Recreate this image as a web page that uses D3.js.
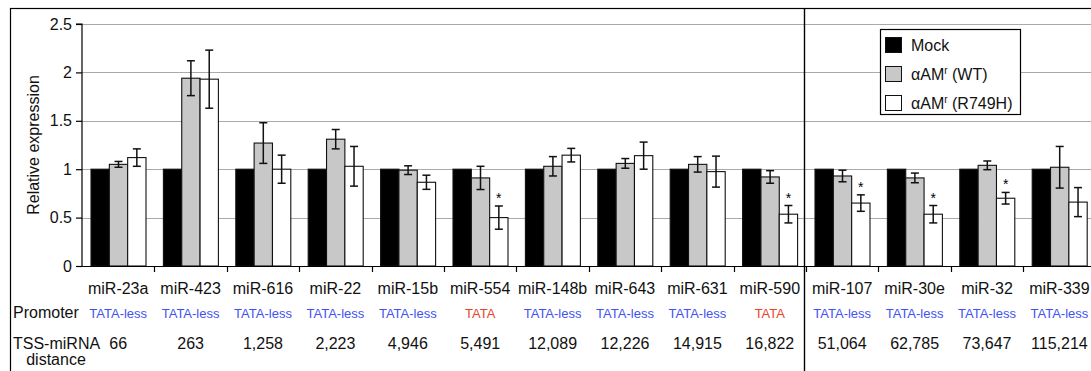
<!DOCTYPE html>
<html>
<head>
<meta charset="utf-8">
<script src="https://cdn.jsdelivr.net/npm/d3@7"></script>
<style>
    html, body { margin: 0; padding: 0; background: #fff; overflow: hidden; }
    svg { display: block; font-family: 'Liberation Sans', Arial, Helvetica, sans-serif; }
</style>
</head>
<body>
<svg id="chart" width="1091" height="371"></svg>
<script>
// data
const categories = ['miR-23a', 'miR-423', 'miR-616', 'miR-22', 'miR-15b', 'miR-554', 'miR-148b',
    'miR-643', 'miR-631', 'miR-590', 'miR-107', 'miR-30e', 'miR-32', 'miR-339'];
const promoters = ['TATA-less', 'TATA-less', 'TATA-less', 'TATA-less', 'TATA-less', 'TATA', 'TATA-less',
    'TATA-less', 'TATA-less', 'TATA', 'TATA-less', 'TATA-less', 'TATA-less', 'TATA-less'];
const distances = ['66', '263', '1,258', '2,223', '4,946', '5,491', '12,089',
    '12,226', '14,915', '16,822', '51,064', '62,785', '73,647', '115,214'];
const mock = [1, 1, 1, 1, 1, 1, 1, 1, 1, 1, 1, 1, 1, 1];
const wt = [1.05, 1.94, 1.27, 1.31, 0.99, 0.91, 1.03, 1.06, 1.05, 0.92, 0.93, 0.91, 1.04, 1.02];
const wtErr = [0.03, 0.18, 0.21, 0.10, 0.045, 0.12, 0.10, 0.05, 0.08, 0.065, 0.06, 0.05, 0.045, 0.215];
const mut = [1.12, 1.93, 1.00, 1.03, 0.865, 0.50, 1.145, 1.14, 0.975, 0.535, 0.65, 0.535, 0.70, 0.66];
const mutErr = [0.09, 0.30, 0.145, 0.205, 0.073, 0.12, 0.07, 0.14, 0.16, 0.09, 0.085, 0.09, 0.06, 0.15];
const significant = [false, false, false, false, false, true, false, false, false, true, true, true, true, false];
const yTicks = [0, 0.5, 1, 1.5, 2, 2.5];
const seriesKeys = ['mock', 'wt', 'mut'];
const seriesNames = ['Mock', 'αAM', 'αAM'];
const seriesSuffix = ['', ' (WT)', ' (R749H)'];
const dividerBefore = 'miR-107';

const colors = {mock: '#000', wt: '#c8c8c8', mut: '#fff'};
const blue = '#3f52f2', red = '#e8442a';

const rows = categories.map((c, i) => ({
    key: c, mock: mock[i], wt: wt[i], mut: mut[i],
    err: {mock: 0, wt: wtErr[i], mut: mutErr[i]}, sig: significant[i]
}));

const svg = d3.select('#chart');
const plotLeft = 82, plotTop = 24, plotBottom = 266;
const catW = 72.4;

const x0 = d3.scaleBand()
    .domain(categories)
    .range([plotLeft, plotLeft + catW * categories.length]);

const x1 = d3.scaleBand()
    .domain(seriesKeys)
    .range([9, 9 + 55]);

const y = d3.scaleLinear()
    .domain([0, 2.5])
    .range([plotBottom, plotTop]);

// outer frame (runs off the right and bottom edges)
svg.append('rect')
    .attr('x', 10.5).attr('y', 8.5)
    .attr('width', 1200).attr('height', 500)
    .attr('fill', 'none').attr('stroke', '#000').attr('stroke-width', 1.2);

// gridlines
svg.append('g')
    .selectAll('line')
    .data(yTicks.filter(t => t > 0))
    .enter().append('line')
    .attr('x1', plotLeft).attr('x2', 1100)
    .attr('y1', d => Math.round(y(d)) + 0.5)
    .attr('y2', d => Math.round(y(d)) + 0.5)
    .attr('stroke', '#aaa').attr('stroke-width', 1.2);

// bars
const groups = svg.append('g')
    .selectAll('g')
    .data(rows)
    .enter().append('g')
    .attr('transform', d => `translate(${x0(d.key)},0)`);

groups.selectAll('rect')
    .data(d => seriesKeys.map(k => ({k: k, v: d[k]})))
    .enter().append('rect')
    .attr('x', d => x1(d.k))
    .attr('y', d => y(d.v))
    .attr('width', x1.bandwidth())
    .attr('height', d => y(0) - y(d.v))
    .attr('fill', d => colors[d.k])
    .attr('stroke', '#111')
    .attr('stroke-width', 1.1);

// error bars
const errs = groups.selectAll('g.err')
    .data(d => ['wt', 'mut'].map(k => ({k: k, v: d[k], e: d.err[k]})))
    .enter().append('g')
    .attr('class', 'err')
    .attr('stroke', '#111')
    .attr('stroke-width', 1.5);

errs.append('line')
    .attr('x1', d => x1(d.k) + x1.bandwidth() / 2)
    .attr('x2', d => x1(d.k) + x1.bandwidth() / 2)
    .attr('y1', d => y(d.v + d.e))
    .attr('y2', d => y(d.v - d.e));

[1, -1].forEach(s => {
    errs.append('line')
        .attr('x1', d => x1(d.k) + x1.bandwidth() / 2 - 4)
        .attr('x2', d => x1(d.k) + x1.bandwidth() / 2 + 4)
        .attr('y1', d => y(d.v + s * d.e))
        .attr('y2', d => y(d.v + s * d.e));
});

// significance stars
groups.filter(d => d.sig)
    .append('text')
    .attr('x', x1('mut') + x1.bandwidth() / 2)
    .attr('y', d => y(d.mut + d.err.mut) - 3)
    .attr('text-anchor', 'middle')
    .attr('font-size', 14)
    .text('*');

// y axis
const yAxis = svg.append('g')
    .attr('transform', `translate(${plotLeft},0)`)
    .call(d3.axisLeft(y).tickValues(yTicks).tickFormat(d3.format('')).tickSize(6).tickPadding(4));
yAxis.select('.domain').attr('stroke', '#000').attr('stroke-width', 1.2).attr('d', `M-6,${plotTop}H0V${plotBottom}`);
yAxis.selectAll('.tick line').attr('stroke-width', 1.2);
yAxis.selectAll('text').attr('font-size', 16).attr('fill', '#111');

// x axis line + category ticks
svg.append('line')
    .attr('x1', plotLeft).attr('x2', 1100)
    .attr('y1', plotBottom + 0.5).attr('y2', plotBottom + 0.5)
    .attr('stroke', '#000').attr('stroke-width', 1.2);

svg.append('g')
    .selectAll('line')
    .data(categories.slice(1))
    .enter().append('line')
    .attr('x1', d => Math.round(x0(d)) + 0.5)
    .attr('x2', d => Math.round(x0(d)) + 0.5)
    .attr('y1', plotBottom).attr('y2', plotBottom + 6)
    .attr('stroke', '#000').attr('stroke-width', 1.2);

// divider
svg.append('line')
    .attr('x1', Math.round(x0(dividerBefore)) - 1.5)
    .attr('x2', Math.round(x0(dividerBefore)) - 1.5)
    .attr('y1', 8).attr('y2', 371)
    .attr('stroke', '#000').attr('stroke-width', 1.4);

// label rows
const mid = d => x0(d) + x0.bandwidth() / 2;

svg.append('g')
    .selectAll('text')
    .data(categories)
    .enter().append('text')
    .attr('x', mid)
    .attr('y', 294)
    .attr('text-anchor', 'middle')
    .attr('font-size', 16)
    .attr('fill', '#111')
    .text(d => d);

svg.append('g')
    .selectAll('text')
    .data(promoters)
    .enter().append('text')
    .attr('x', (d, i) => mid(categories[i]))
    .attr('y', 318)
    .attr('text-anchor', 'middle')
    .attr('font-size', 13)
    .attr('fill', d => d === 'TATA' ? red : blue)
    .text(d => d);

svg.append('g')
    .selectAll('text')
    .data(distances)
    .enter().append('text')
    .attr('x', (d, i) => mid(categories[i]))
    .attr('y', 349)
    .attr('text-anchor', 'middle')
    .attr('font-size', 16)
    .attr('fill', '#111')
    .text(d => d);

svg.append('text').attr('x', 13).attr('y', 318).attr('font-size', 16).attr('fill', '#111').text('Promoter');
svg.append('text').attr('x', 13).attr('y', 349).attr('font-size', 16).attr('fill', '#111').text('TSS-miRNA');
svg.append('text').attr('x', 56).attr('y', 365).attr('text-anchor', 'middle').attr('font-size', 16).attr('fill', '#111').text('distance');

// y title
svg.append('text')
    .attr('transform', `translate(39,${(plotTop + plotBottom) / 2}) rotate(-90)`)
    .attr('text-anchor', 'middle')
    .attr('font-size', 16)
    .attr('fill', '#111')
    .text('Relative expression');

// legend
const legend = svg.append('g').attr('transform', 'translate(880,29)');
legend.append('rect')
    .attr('x', 0.5).attr('y', 0.5).attr('width', 140).attr('height', 85)
    .attr('fill', '#fff').attr('stroke', '#000').attr('stroke-width', 1.2);

const items = legend.selectAll('g.item')
    .data(seriesKeys)
    .enter().append('g')
    .attr('class', 'item')
    .attr('transform', (d, i) => `translate(0,${8 + i * 29})`);

items.append('rect')
    .attr('x', 5.5).attr('y', 0.5).attr('width', 16).attr('height', 15)
    .attr('fill', d => colors[d]).attr('stroke', '#111').attr('stroke-width', 1);

const lt = items.append('text')
    .attr('x', 31).attr('y', 14)
    .attr('font-size', 16)
    .attr('fill', '#111');
lt.append('tspan').text((d, i) => seriesNames[i]);
lt.filter((d, i) => i > 0).append('tspan')
    .attr('font-size', 10).attr('dy', -6).text('r');
lt.filter((d, i) => i > 0).append('tspan')
    .attr('dy', 6).text((d) => seriesSuffix[seriesKeys.indexOf(d)]);
</script>
</body>
</html>
